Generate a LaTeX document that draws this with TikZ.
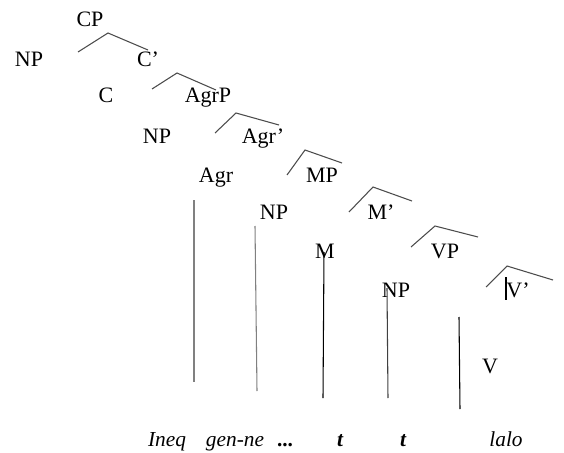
\documentclass[tikz,border=0pt]{standalone}
\usepackage{fontspec}
\setmainfont{Liberation Serif}
\usepackage{tikz}
\usetikzlibrary{positioning}

\begin{document}
\begin{tikzpicture}[
  x=0.75pt, y=-0.75pt,
  lab/.style={anchor=base, inner sep=0pt, font=\fontsize{16.5}{19}\selectfont},
  word/.style={anchor=base, inner sep=0pt, font=\fontsize{16}{19}\selectfont\itshape},
  branch/.style={draw, gray!60!black, line width=0.8pt},
  trace/.style={draw, line width=0.8pt}
]
\useasboundingbox (0,0) rectangle (564,453);

% Labels of the tree
\node[lab] (cp)   at (90,27)   {CP};
\node[lab] (np1)  at (29,67)   {NP};
\node[lab] (cbar) at (148,67)  {C'};
\node[lab] (c)    at (106,103) {C};
\node[lab] (agrp) at (208,103) {AgrP};
\node[lab] (np2)  at (157,143) {NP};
\node[lab] (agrbar) at (263,143) {Agr'};
\node[lab] (agr)  at (216,182) {Agr};
\node[lab] (mp)   at (322,182) {MP};
\node[lab] (np3)  at (274,219) {NP};
\node[lab] (mbar) at (381,219) {M'};
\node[lab] (m)    at (325,258) {M};
\node[lab] (vp)   at (445,258) {VP};
\node[lab] (np4)  at (396,297) {NP};
\node[lab] (vbar) at (518,297) {V'};
\node[lab] (v)    at (490,373) {V};

% Branches
\foreach \nm/\pl/\pa/\pr in {
  cp/{(78,52)}/{(108,33)}/{(148,50)},
  cbar/{(152,89)}/{(177,73)}/{(216,90)},
  agrp/{(215,133)}/{(236,113)}/{(279,125)},
  agrbar/{(287,175)}/{(305,150)}/{(342,163)},
  mp/{(349,212)}/{(373,187)}/{(412,201)},
  mbar/{(411,247)}/{(435,226)}/{(478,237)},
  vp/{(486,287)}/{(507,266)}/{(553,280)}} {
  \path \pl coordinate (\nm-l) \pa coordinate (\nm-top) \pr coordinate (\nm-r);
  \draw[branch] (\nm-l) -- (\nm-top) -- (\nm-r);
}

% Words
\node[word] (ineq)  at (167,446) {Ineq};
\node[word] (genne) at (235,446) {gen-ne};
\node[word, font=\fontsize{16}{19}\selectfont\bfseries] (dots) at (285,446) {...};
\node[word, font=\fontsize{16}{19}\selectfont\bfseries\itshape] (t1) at (340,446) {t};
\node[word, font=\fontsize{16}{19}\selectfont\bfseries\itshape] (t2) at (403,446) {t};
\node[word] (lalo)  at (506,446) {lalo};

% Vertical lines
\foreach \nm/\col/\pu/\pd in {
  l1/gray/{(194,200)}/{(194,382)},
  l2/gray/{(255,226)}/{(257,391)},
  l3/black/{(324,252)}/{(323,398)},
  l4/gray!50!black/{(387,288)}/{(388,398)},
  l5/black/{(459,317)}/{(460,409)},
  l6/black/{(506,277)}/{(506,300)}} {
  \path \pu coordinate (\nm-up) \pd coordinate (\nm-foot);
  \draw[trace, \col] (\nm-up) -- (\nm-foot);
}
\end{tikzpicture}
\end{document}
